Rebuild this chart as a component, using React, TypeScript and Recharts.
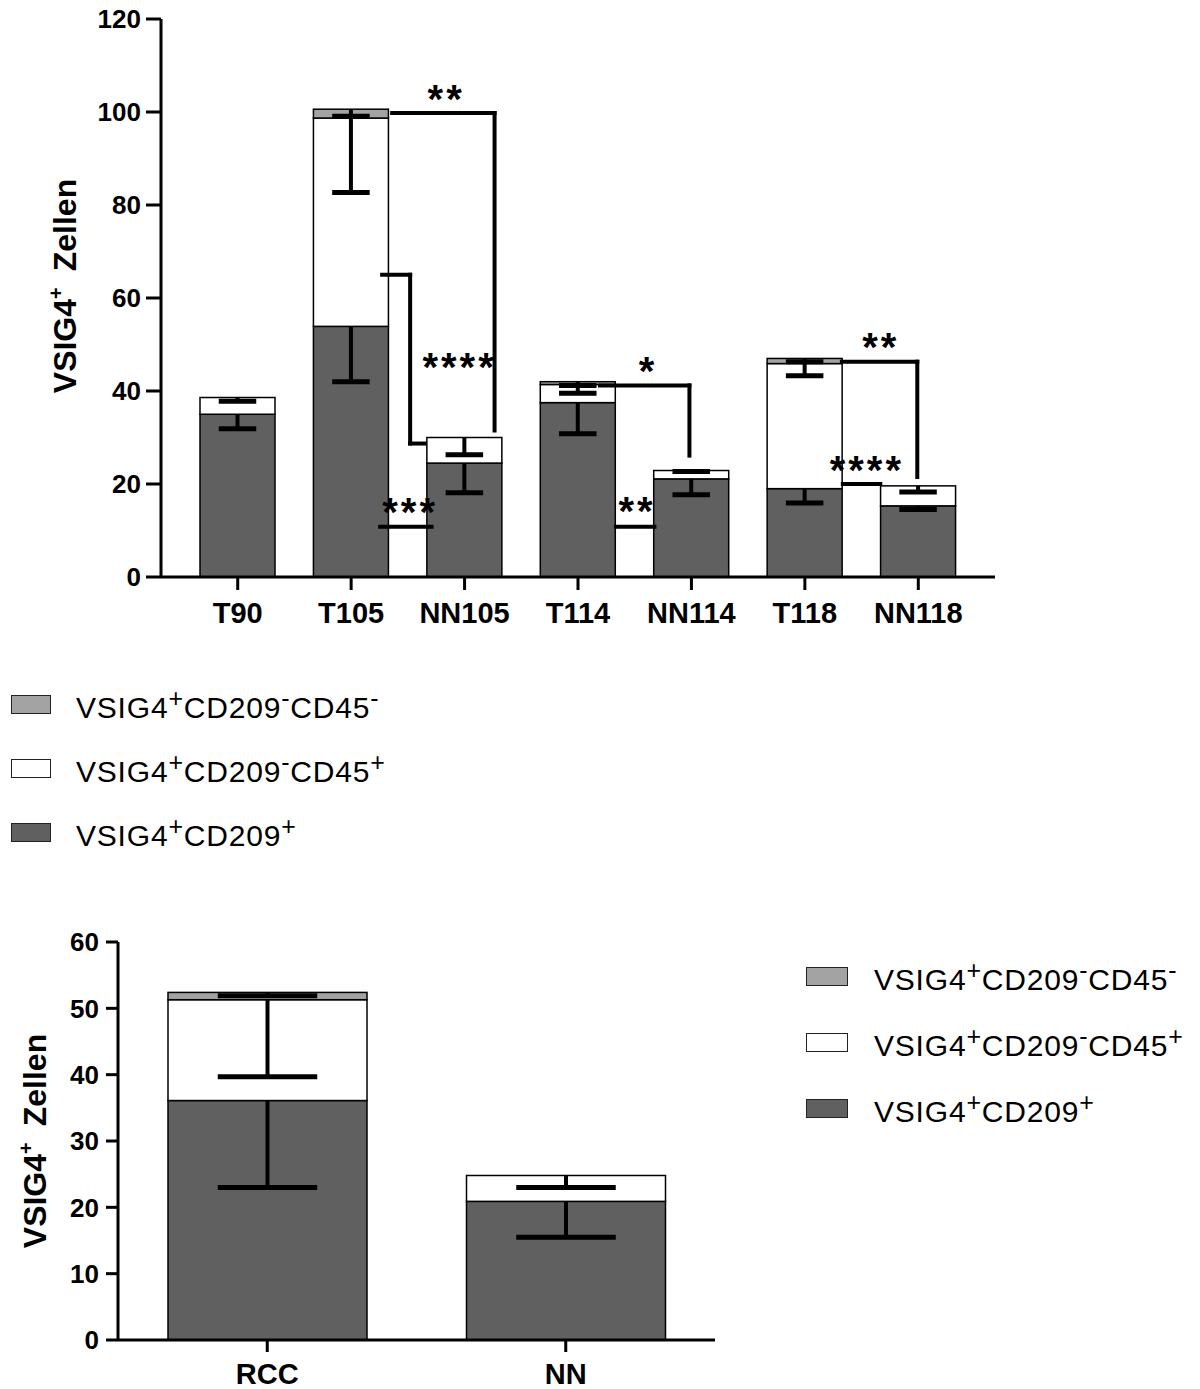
import React from 'react';
import { BarChart, Bar, XAxis, YAxis, ReferenceLine, ReferenceDot } from 'recharts';

const FONT = '"Liberation Sans", Arial, Helvetica, sans-serif';
const DARK = '#606060';
const WHITE = '#ffffff';
const GREY = '#a3a3a3';

// Einzelproben (Mittelwert, SD nach unten)
const sampleNames = ['T90', 'T105', 'NN105', 'T114', 'NN114', 'T118', 'NN118'];
const sampleCd209 = [35.0, 53.9, 24.5, 37.5, 21.1, 19.0, 15.3];
const sampleCd45pos = [3.6, 44.8, 5.5, 3.9, 1.8, 26.9, 4.3];
const sampleCd45neg = [0, 1.9, 0, 0.6, 0, 1.1, 0];
const sampleCd209Sd = [3.1, 11.9, 6.4, 6.7, 3.4, 3.1, 0.8];
const sampleCd45posSd = [0.8, 16.0, 3.7, 1.9, 0.2, 2.6, 1.3];
const sampleCd45negSd = [0, 1.5, 0, 0.8, 0, 0.7, 0];
const sampleTicks = [0, 20, 40, 60, 80, 100, 120];

// Gruppen RCC vs NN
const groupNames = ['RCC', 'NN'];
const groupCd209 = [36.1, 20.9];
const groupCd45pos = [15.2, 3.9];
const groupCd45neg = [1.1, 0];
const groupCd209Sd = [13.1, 5.4];
const groupCd45posSd = [11.6, 1.8];
const groupCd45negSd = [0.5, 0];
const groupTicks = [0, 10, 20, 30, 40, 50, 60];

// Signifikanz-Klammern: [Kategorie, Versatz in px zur Balkenmitte, Wert]
type Pt = [string, number, number];
const brackets: Pt[][] = [
  [['T105', 41, 99.8], ['NN105', 30, 99.8], ['NN105', 30, 31.5]],
  [['T105', 31, 65], ['T105', 59, 65], ['T105', 59, 28.7], ['NN105', -40, 28.7]],
  [['T105', 29, 10.8], ['NN105', -33, 10.8]],
  [['T114', 22, 41.2], ['NN114', -2, 41.2], ['NN114', -2, 26.1]],
  [['T114', 38, 10.8], ['NN114', -37, 10.8]],
  [['T118', 37, 46.3], ['NN118', -1, 46.3], ['NN118', -1, 21.5]],
  [['T118', 38, 20.0], ['NN118', -38, 20.0]],
];
const stars: { text: string; at: Pt }[] = [
  { text: '**', at: ['T105', 95, 104.8] },
  { text: '****', at: ['NN105', -5, 47.1] },
  { text: '***', at: ['T105', 59, 15.9] },
  { text: '*', at: ['T114', 70, 46.2] },
  { text: '**', at: ['T114', 59, 16.1] },
  { text: '**', at: ['T118', 76, 51.4] },
  { text: '****', at: ['T118', 62, 24.9] },
];

const buildRows = (
  names: string[], a: number[], b: number[], c: number[],
  aSd: number[], bSd: number[], cSd: number[]
) =>
  names.map((name, i) => ({
    name,
    cd209: a[i],
    cd45pos: b[i],
    cd45neg: c[i],
    cd209Sd: aSd[i],
    cd45posSd: bSd[i],
    cd45negSd: cSd[i],
  }));

const sampleRows = buildRows(sampleNames, sampleCd209, sampleCd45pos, sampleCd45neg,
  sampleCd209Sd, sampleCd45posSd, sampleCd45negSd);
const groupRows = buildRows(groupNames, groupCd209, groupCd45pos, groupCd45neg,
  groupCd209Sd, groupCd45posSd, groupCd45negSd);

// stacked segment with a one-sided (downward) SD bar, like GraphPad
function makeSegment(dataKey: string, sdKey: string) {
  return (props: any) => {
    const { x, y, width, height, fill, payload, value } = props;
    const span = Array.isArray(value) ? value[1] - value[0] : payload?.[dataKey];
    if (!span || span <= 0 || !height) return <g />;
    const pxPerUnit = height / span;
    const sd = payload?.[sdKey] ?? 0;
    const cx = x + width / 2;
    const yEnd = y + sd * pxPerUnit;
    const half = width / 4;
    return (
      <g>
        <rect x={x} y={y} width={width} height={height} fill={fill} stroke="#000" strokeWidth={1.5} />
        {sd > 0 && (
          <g stroke="#000">
            <line x1={cx} x2={cx} y1={y} y2={yEnd} strokeWidth={4} />
            <line x1={cx - half} x2={cx + half} y1={yEnd} y2={yEnd} strokeWidth={5} />
          </g>
        )}
      </g>
    );
  };
}

function AxisTitle({ viewBox, baseX, shiftY = 0 }: any) {
  if (!viewBox) return null;
  const x = viewBox.x + baseX;
  const cy = viewBox.y + viewBox.height / 2 + shiftY;
  return (
    <text
      x={x}
      y={cy}
      transform={`rotate(-90 ${x} ${cy})`}
      textAnchor="middle"
      fontSize={32}
      fontWeight={700}
      fontFamily={FONT}
      fill="#000"
    >
      VSIG4
      <tspan fontSize={20} dy={-13}>+</tspan>
      <tspan dy={13} dx={16}>Zellen</tspan>
    </text>
  );
}

const axisStroke = { stroke: '#000', strokeWidth: 3 };
const tickText = { fill: '#000', fontSize: 26, fontWeight: 700, fontFamily: FONT };
const catText = { fill: '#000', fontSize: 29, fontWeight: 700, fontFamily: FONT };

const legendItems = [
  { fill: GREY, label: <>VSIG4<sup>+</sup>CD209<sup>-</sup>CD45<sup>-</sup></> },
  { fill: WHITE, label: <>VSIG4<sup>+</sup>CD209<sup>-</sup>CD45<sup>+</sup></> },
  { fill: DARK, label: <>VSIG4<sup>+</sup>CD209<sup>+</sup></> },
];

function LegendBlock({ left, top, gap, boxW, textLeft }: any) {
  return (
    <>
      {legendItems.map((item, i) => (
        <div
          key={i}
          style={{
            position: 'absolute',
            left,
            top: top + i * gap - 20,
            height: 40,
            display: 'flex',
            alignItems: 'center',
            fontFamily: FONT,
            fontSize: 30,
            letterSpacing: 0.8,
            color: '#000',
            whiteSpace: 'nowrap',
          }}
        >
          <div
            style={{
              width: boxW,
              height: 19,
              boxSizing: 'border-box',
              background: item.fill,
              border: '1.5px solid #222',
              marginRight: textLeft - left - boxW,
            }}
          />
          <span>{item.label}</span>
        </div>
      ))}
    </>
  );
}

function renderSeries(barSize: number) {
  return [
    <Bar key="a" dataKey="cd209" stackId="s" fill={DARK} barSize={barSize}
      shape={makeSegment('cd209', 'cd209Sd')} isAnimationActive={false} />,
    <Bar key="b" dataKey="cd45pos" stackId="s" fill={WHITE} barSize={barSize}
      shape={makeSegment('cd45pos', 'cd45posSd')} isAnimationActive={false} />,
    <Bar key="c" dataKey="cd45neg" stackId="s" fill={GREY} barSize={barSize}
      shape={makeSegment('cd45neg', 'cd45negSd')} isAnimationActive={false} />,
  ];
}

export default function App() {
  return (
    <div style={{ position: 'absolute', left: 0, top: 0, width: 1200, height: 1389, background: '#fff' }}>
      <div style={{ position: 'absolute', left: 0, top: 0 }}>
        <BarChart width={1200} height={660} data={sampleRows}
          margin={{ top: 19, right: 205, left: 0, bottom: 0 }}>
          <XAxis dataKey="name" height={83} padding={{ left: 20, right: 20 }}
            axisLine={axisStroke} tickLine={axisStroke} tickSize={13} tickMargin={12}
            tick={catText} interval={0} />
          <YAxis width={161} domain={[0, 120]} ticks={sampleTicks} interval={0}
            axisLine={axisStroke} tickLine={axisStroke} tickSize={15} tickMargin={5}
            tick={tickText} label={<AxisTitle baseX={76} shiftY={-12} />} />
          {renderSeries(75)}
          {brackets.flatMap((pts, bi) =>
            pts.slice(1).map((p, si) => {
              const q = pts[si];
              return (
                <ReferenceLine
                  key={`br-${bi}-${si}`}
                  segment={[{ x: q[0], y: q[2] }, { x: p[0], y: p[2] }]}
                  shape={(l: any) => (
                    <line x1={l.x1 + q[1]} y1={l.y1} x2={l.x2 + p[1]} y2={l.y2}
                      stroke="#000" strokeWidth={4} strokeLinecap="square" />
                  )}
                />
              );
            })
          )}
          {stars.map((s, i) => (
            <ReferenceDot
              key={`st-${i}`}
              x={s.at[0]}
              y={s.at[2]}
              r={1}
              shape={(d: any) => (
                <text x={d.cx + s.at[1]} y={d.cy + 23} textAnchor="middle" fontSize={40}
                  fontWeight={700} fontFamily={FONT} letterSpacing={3} fill="#000">
                  {s.text}
                </text>
              )}
            />
          ))}
        </BarChart>
      </div>

      <LegendBlock left={11} top={704} gap={64} boxW={40} textLeft={76} />

      <div style={{ position: 'absolute', left: 0, top: 900 }}>
        <BarChart width={1200} height={489} data={groupRows}
          margin={{ top: 42, right: 485, left: 0, bottom: 0 }}>
          <XAxis dataKey="name" height={49}
            axisLine={axisStroke} tickLine={axisStroke} tickSize={12} tickMargin={11}
            tick={catText} interval={0} />
          <YAxis width={118} domain={[0, 60]} ticks={groupTicks} interval={0}
            axisLine={axisStroke} tickLine={axisStroke} tickSize={12} tickMargin={7}
            tick={tickText} label={<AxisTitle baseX={46} />} />
          {renderSeries(199)}
        </BarChart>
      </div>

      <LegendBlock left={806} top={976} gap={66} boxW={42} textLeft={874} />
    </div>
  );
}
